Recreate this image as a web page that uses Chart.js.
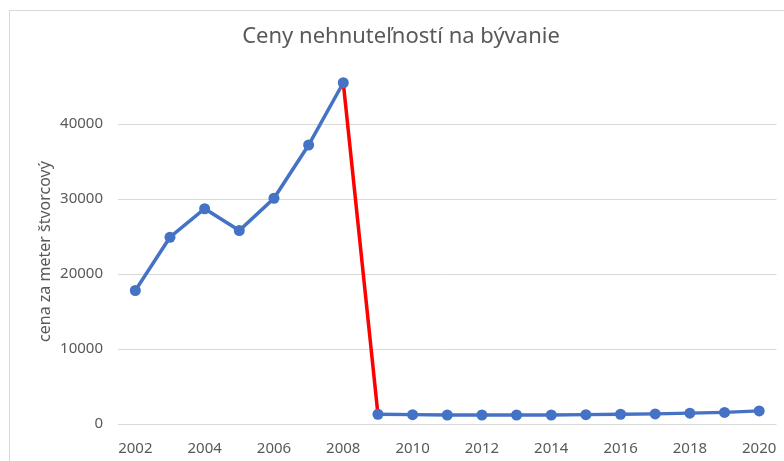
<!DOCTYPE html>
<html>
<head>
<meta charset="utf-8">
<script src="https://cdn.jsdelivr.net/npm/chart.js@4/dist/chart.umd.min.js"></script>
<style>
  html,body{margin:0;padding:0;background:#fff;}
  #wrap{width:784px;height:461px;position:relative;}
</style>
</head>
<body>
<div id="wrap"><canvas id="myChart" width="784" height="461"></canvas></div>
<script>
// data
const years=['2002','2003','2004','2005','2006','2007','2008','2009','2010','2011',
             '2012','2013','2014','2015','2016','2017','2018','2019','2020']
const prices=[17800,24900,28700,25800,30100,37200,45500,1300,1250,1200,
              1200,1200,1200,1250,1300,1350,1450,1550,1750]
const yTicks=[0,10000,20000,30000,40000]
const yMax=46000
const chartTitle='Ceny nehnuteľností na bývanie'
const yTitle='cena za meter štvorcový'
const dropFrom='2008'   // segment drawn red

const blue='#4472C4', red='#FF0000', grey='#595959', gridCol='#D9D9D9'

// light frame like the office chart box
const framePlugin={
    id:'frame',
    beforeDraw(chart){
        let c=chart.ctx
        c.save()
        c.fillStyle='#fff'
        c.fillRect(0,0,chart.width,chart.height)
        c.strokeStyle=gridCol
        c.lineWidth=1
        c.strokeRect(9.5,10.5,chart.width+20,chart.height+20)
        c.restore()
    }
}

let ctx=document.getElementById('myChart').getContext('2d')
let myChart=new Chart(ctx,{
    type:'line',
    data:{
        labels:years,
        datasets:[{
            data:prices,
            clip:false,
            borderColor:blue,
            backgroundColor:blue,
            borderWidth:3.5,
            pointRadius:5.5,
            pointBackgroundColor:blue,
            pointBorderColor:blue,
            pointBorderWidth:0,
            tension:0,
            segment:{
                borderColor:c=>years[c.p0DataIndex]===dropFrom?red:undefined
            }
        }]
    },
    options:{
        responsive:false,
        animation:false,
        layout:{padding:{left:18,right:0,top:0,bottom:0}},
        plugins:{
            legend:{display:false},
            tooltip:{enabled:false},
            title:{
                display:true,
                text:chartTitle,
                color:grey,
                font:{family:'Noto Sans',size:22,weight:'normal'},
                padding:{top:24,bottom:28.6}
            }
        },
        scales:{
            x:{
                offset:true,
                grid:{display:false},
                border:{display:false},
                ticks:{
                    autoSkip:false,
                    maxRotation:0,
                    color:grey,
                    padding:7.5,
                    font:{family:'Noto Sans',size:15},
                    callback:function(v,i){return i%2===0?this.getLabelForValue(v):''}
                },
                afterFit:s=>{s.height=37}
            },
            y:{
                min:0,
                max:yMax,
                afterBuildTicks:s=>{s.ticks=yTicks.map(v=>({value:v}))},
                grid:{color:gridCol,lineWidth:1,drawTicks:false},
                border:{display:false},
                ticks:{
                    color:grey,
                    padding:15,
                    font:{family:'Noto Sans',size:15},
                    callback:v=>String(v)
                },
                title:{
                    display:true,
                    text:yTitle,
                    color:grey,
                    font:{family:'Noto Sans',size:16},
                    padding:{top:17.4}
                },
                afterFit:s=>{s.width=100}
            }
        }
    },
    plugins:[framePlugin]
})
</script>
</body>
</html>
